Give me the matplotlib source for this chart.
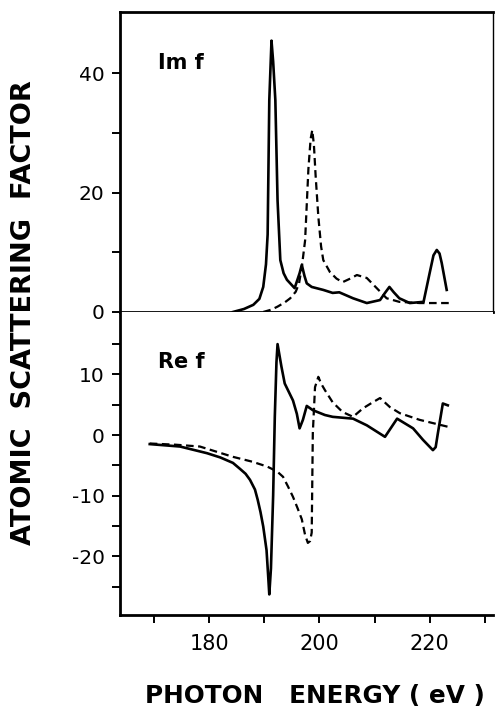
import matplotlib
matplotlib.use("Agg")
import matplotlib.pyplot as plt
from matplotlib.ticker import FixedLocator

plt.rcParams['font.family'] = ['DejaVu Sans']
plt.rcParams['axes.unicode_minus'] = False

# Im f, solid curve
im_solid_x = [184.3, 186.3, 188.0, 189.1, 189.8, 190.3, 190.6, 190.9, 191.3, 191.6, 192.0, 192.4,
              192.9, 193.5, 194.1, 195.5, 196.4, 196.8, 197.3, 197.7, 198.6, 200.7, 202.4, 203.6,
              206.1, 208.6, 211.0, 211.9, 212.7, 213.5, 214.5, 216.4, 218.9, 220.0, 220.7, 221.3,
              221.8, 222.2, 223.1]
im_solid_y = [0.0, 0.5, 1.2, 2.2, 4.2, 8.0, 13.0, 35.5, 45.5, 42.0, 35.5, 18.7,
              8.7, 6.5, 5.4, 4.0, 6.5, 7.9, 6.0, 4.8, 4.2, 3.7, 3.2, 3.3,
              2.3, 1.5, 2.0, 3.2, 4.2, 3.3, 2.3, 1.5, 1.7, 6.5, 9.5, 10.4,
              9.8, 8.2, 3.7]

# Im f, dashed curve
im_dash_x = [189.8, 191.3, 192.4, 193.7, 194.7, 195.7, 196.3, 196.8, 197.4, 198.0, 198.4, 198.7,
             199.0, 199.3, 199.8, 200.3, 200.7, 201.9, 203.1, 204.2, 205.6, 206.8, 208.6, 210.4,
             212.2, 214.5, 218.2, 223.7]
im_dash_y = [0.0, 0.4, 0.9, 1.6, 2.3, 3.4, 4.8, 7.5, 12.0, 24.0, 29.0, 30.5,
             28.0, 23.0, 16.0, 11.0, 8.7, 6.7, 5.6, 5.0, 5.6, 6.2, 5.7, 4.0,
             2.3, 1.7, 1.5, 1.5]

# Re f, solid curve
re_solid_x = [169.2, 174.7, 179.6, 182.0, 184.3, 185.6, 186.6, 187.4, 188.3, 188.8, 189.3, 189.8,
              190.4, 190.7, 190.9, 191.2, 191.6, 191.9, 192.2, 192.4, 193.1, 193.7, 195.2, 195.9,
              196.4, 197.0, 197.7, 198.8, 201.0, 202.4, 206.1, 208.6, 211.9, 214.1, 217.0, 218.8,
              220.6, 221.1, 221.5, 222.4, 223.3]
re_solid_y = [-1.5, -1.9, -3.0, -3.7, -4.6, -5.6, -6.4, -7.4, -9.0, -10.7, -12.7, -15.1,
              -19.0, -23.3, -26.3, -22.0, -10.0, 3.0, 12.0, 15.0, 11.3, 8.5, 5.7, 3.5,
              1.1, 2.5, 4.8, 4.1, 3.3, 3.0, 2.7, 1.6, -0.3, 2.7, 1.1, -0.8,
              -2.5, -2.0, 0.3, 5.2, 4.9]

# Re f, dashed curve
re_dash_x = [169.2, 173.9, 178.3, 184.3, 187.8, 190.5, 192.3, 193.4, 194.3, 195.2, 196.0, 196.8,
             197.4, 197.9, 198.3, 198.6, 198.8, 199.2, 199.8, 200.3, 201.0, 202.4, 204.2, 206.1,
             207.9, 209.5, 211.0, 212.8, 214.6, 218.2, 223.6]
re_dash_y = [-1.4, -1.6, -1.9, -3.6, -4.4, -5.2, -6.0, -6.9, -8.5, -10.2, -12.0, -13.9,
             -16.5, -17.8, -17.5, -16.1, 0.3, 7.9, 9.6, 8.5, 7.4, 5.4, 3.8, 3.0,
             4.4, 5.3, 6.1, 4.6, 3.6, 2.5, 1.3]

x_major = [180, 200, 220]
x_minor = [170, 190, 210, 230]

LW = 1.9
DASH = (0, (3.4, 2.0))

fig = plt.figure(figsize=(4.95, 7.11), dpi=100)
ax_im = fig.add_axes([0.2424, 0.5612, 0.7535, 0.4219])
ax_re = fig.add_axes([0.2424, 0.135, 0.7535, 0.4262])

ax_im.plot(im_solid_x, im_solid_y, color='black', lw=LW, solid_joinstyle='round')
ax_im.plot(im_dash_x, im_dash_y, color='black', lw=LW * 0.85, linestyle=DASH)
ax_re.plot(re_solid_x, re_solid_y, color='black', lw=LW, solid_joinstyle='round')
ax_re.plot(re_dash_x, re_dash_y, color='black', lw=LW * 0.85, linestyle=DASH)

for ax in (ax_im, ax_re):
    ax.set_xlim(163.8, 231.5)
    ax.xaxis.set_major_locator(FixedLocator(x_major))
    ax.xaxis.set_minor_locator(FixedLocator(x_minor))
    ax.tick_params(axis='both', which='both', direction='out', width=1.4, color='black')
    ax.tick_params(axis='both', which='major', length=6)
    ax.tick_params(axis='both', which='minor', length=6)
    ax.tick_params(axis='y', labelsize=14.5, pad=5)
    for side in ('left', 'bottom'):
        ax.spines[side].set_linewidth(2.0)

ax_im.set_ylim(0, 50.3)
ax_im.yaxis.set_major_locator(FixedLocator([0, 20, 40]))
ax_im.yaxis.set_minor_locator(FixedLocator([10, 30]))
ax_im.tick_params(axis='x', labelbottom=False)
ax_im.spines['top'].set_linewidth(2.0)
ax_im.spines['right'].set_linewidth(1.0)
ax_im.text(170.7, 41.8, 'Im f', fontsize=15, fontweight='bold', va='center', ha='left')

ax_re.set_ylim(-29.7, 20.3)
ax_re.yaxis.set_major_locator(FixedLocator([-20, -10, 0, 10]))
ax_re.yaxis.set_minor_locator(FixedLocator([-25, -15, -5, 5, 15]))
ax_re.spines['top'].set_visible(False)
ax_re.spines['right'].set_visible(False)
ax_re.tick_params(axis='x', labelsize=15, pad=8)
ax_re.text(170.7, 12.0, 'Re f', fontsize=15, fontweight='bold', va='center', ha='left')

fig.text(0.0485, 0.56, 'ATOMIC  SCATTERING  FACTOR', rotation=90, fontsize=19.5,
         fontweight='bold', ha='center', va='center')
fig.text(0.636, 0.021, 'PHOTON   ENERGY ( eV )', fontsize=17.8, fontweight='bold',
         ha='center', va='center')

fig.savefig('out.png', dpi=100)
